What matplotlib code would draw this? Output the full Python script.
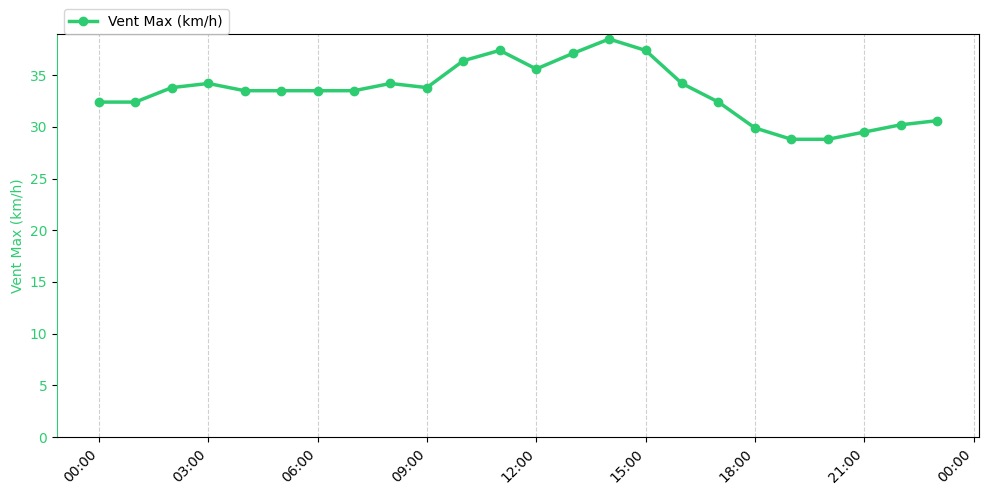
import matplotlib
matplotlib.use("Agg")
import matplotlib.pyplot as plt
import matplotlib.dates as mdates
import pandas as pd

hours = pd.date_range("2024-01-01 00:00", periods=24, freq="h")
vent_max = [32.4, 32.4, 33.8, 34.2, 33.5, 33.5, 33.5, 33.5, 34.2, 33.8, 36.4, 37.4,
            35.6, 37.1, 38.5, 37.4, 34.2, 32.4, 29.9, 28.8, 28.8, 29.5, 30.2, 30.6]
label = "Vent Max (km/h)"
color = "#2ecc71"

fig = plt.figure(figsize=(9.89, 4.94), dpi=100)
ax = fig.add_axes([57/989, 1-437/494, (979-57)/989, (437-34)/494])
ax.plot(hours, vent_max, color=color, linewidth=2.5, marker="o", markersize=6, label=label)
ax.set_ylim(bottom=0)
ax.set_ylabel(label, color=color)
ax.tick_params(axis="y", labelcolor=color)
ax.spines["left"].set_color(color)
ax.xaxis.set_major_locator(mdates.HourLocator(interval=3))
ax.xaxis.set_major_formatter(mdates.DateFormatter("%H:%M"))
ax.grid(axis="x", linestyle="--", alpha=0.6)
plt.setp(ax.get_xticklabels(), rotation=45, ha="right")
ax.legend(loc="lower left", bbox_to_anchor=(0.0075, 1.0), borderaxespad=0)
fig.savefig("out.png", dpi=100)
